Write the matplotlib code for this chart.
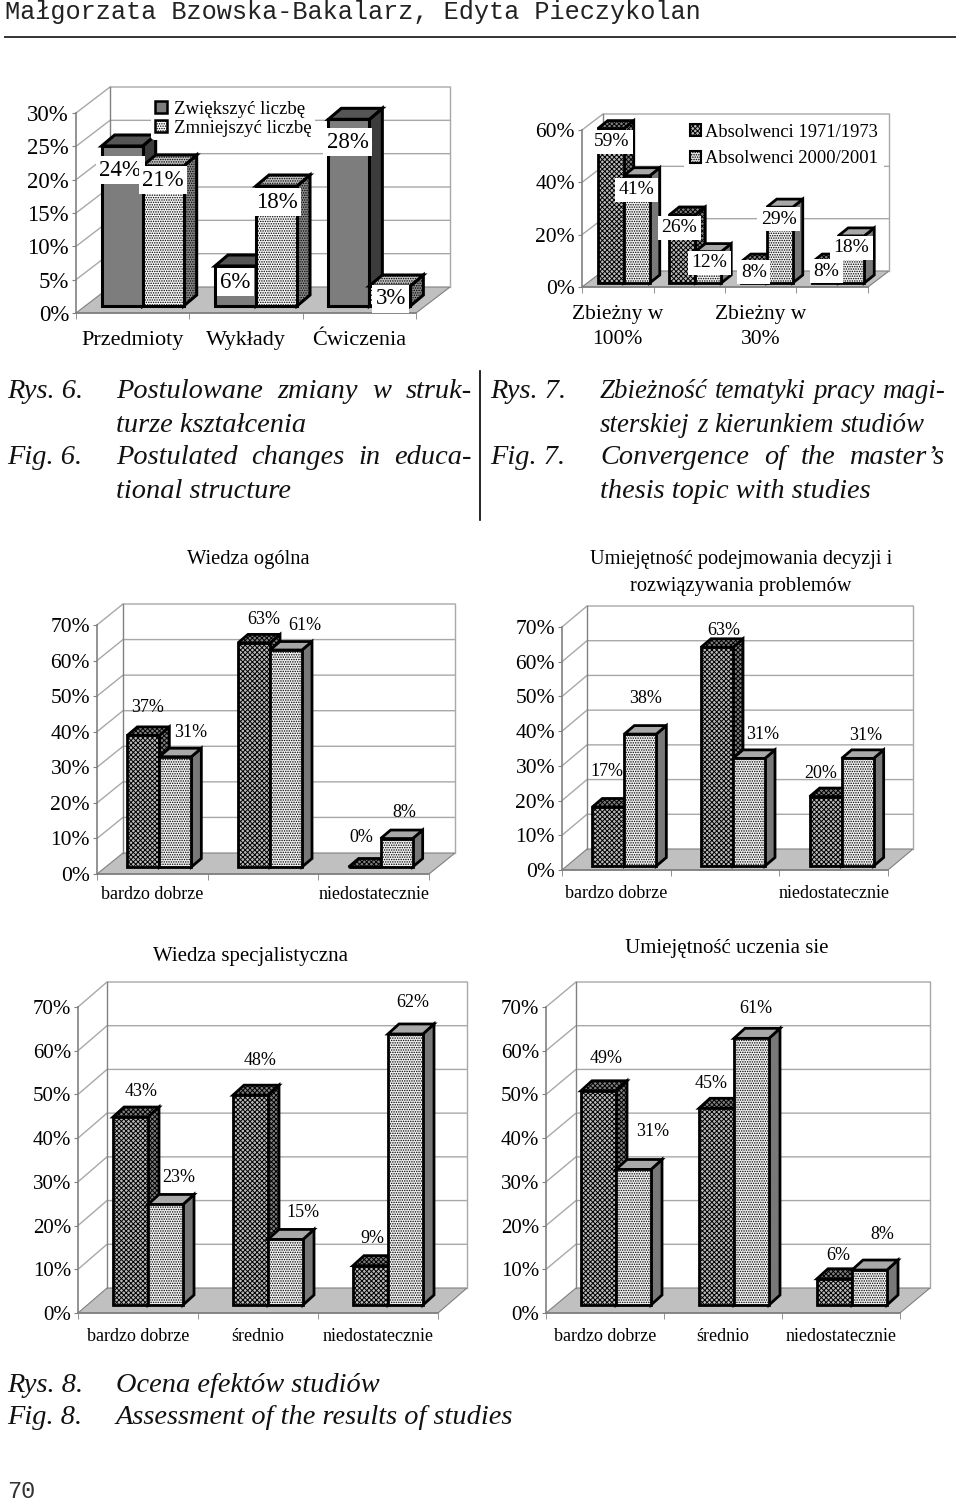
import matplotlib
matplotlib.use("Agg")
import matplotlib.pyplot as plt
from matplotlib.patches import Polygon, Patch

plt.rcParams["font.family"] = ["Liberation Serif", "DejaVu Serif"]
plt.rcParams["hatch.linewidth"] = 0.7

W, H = 960, 1504

# Dane
p1_cats = ["Przedmioty", "Wykłady", "Ćwiczenia"]
p1_a = [24, 6, 28]
p1_b = [21, 18, 3]
p1_ticks = [0, 5, 10, 15, 20, 25, 30]
p1_legend = ["Zwiększyć liczbę", "Zmniejszyć liczbę"]

p2_cats = ["Zbieżny w\n100%", "", "Zbieżny w\n30%", ""]
p2_a = [59, 26, 8, 8]
p2_b = [41, 12, 29, 18]
p2_ticks = [0, 20, 40, 60]
p2_legend = ["Absolwenci 1971/1973", "Absolwenci 2000/2001"]

p3_cats = ["bardzo dobrze", "", "niedostatecznie"]
p3_a = [37, 63, 0]
p3_b = [31, 61, 8]

p4_cats = ["bardzo dobrze", "", "niedostatecznie"]
p4_a = [17, 63, 20]
p4_b = [38, 31, 31]

p5_cats = ["bardzo dobrze", "średnio", "niedostatecznie"]
p5_a = [43, 48, 9]
p5_b = [23, 15, 62]

p6_cats = ["bardzo dobrze", "średnio", "niedostatecznie"]
p6_a = [49, 45, 6]
p6_b = [31, 61, 8]

ticks70 = [0, 10, 20, 30, 40, 50, 60, 70]

fig = plt.figure(figsize=(W / 100, H / 100), dpi=100, facecolor="white")

# Style słupków: (przód, bok, góra) -> kolor i kreskowanie
DENSE = "xxxxxxx"
DOTS = "......."
STYLE_SOLID = [("#7d7d7d", None), ("#3c3c3c", None), ("#555555", None)]
STYLE_DOT = [("#f8f8f8", DOTS), ("#8a8a8a", DOTS), ("#c4c4c4", DOTS)]
STYLE_DARK = [("#bbbbbb", DENSE), ("#808080", DENSE), ("#808080", DENSE)]
STYLE_LIGHT = [("#f2f2f2", DOTS), ("#787878", None), ("#a8a8a8", None)]


def fx(x):
    return x / W


def fy(y):
    return 1 - y / H


def put(x, y, s, **kw):
    kw.setdefault("va", "center")
    return fig.text(fx(x), fy(y + 2), s, **kw)


def justified(x0, x1, y, s, **kw):
    # tekst wyjustowany: każde słowo osobno
    words = s.split(" ")
    r = fig.canvas.get_renderer()
    items = [put(x0, y, w, **kw) for w in words]
    widths = [t.get_window_extent(r).width for t in items]
    gap = (x1 - x0 - sum(widths)) / (len(words) - 1)
    x = x0
    for t, w in zip(items, widths):
        t.set_x(fx(x))
        x += w + gap


def bar3d(ax, x, w, v, sy, ddx, ddy, style, lw):
    base = sy
    top = sy + v
    front = [(x, base), (x + w, base), (x + w, top), (x, top)]
    side = [(x + w, base), (x + w + ddx, base + ddy), (x + w + ddx, top + ddy), (x + w, top)]
    lid = [(x, top), (x + w, top), (x + w + ddx, top + ddy), (x + ddx, top + ddy)]
    for pts, (fc, hatch) in zip([side, lid, front], [style[1], style[2], style[0]]):
        ax.add_patch(Polygon(pts, closed=True, fc=fc, ec="black", hatch=hatch, lw=lw,
                             joinstyle="miter", clip_on=False, zorder=3))


def panel(rect, cats, a, b, ticks, depth, shift, barw, bar_depth, styles, offs,
          fs_tick, fs_cat, fs_val, boxed=False, lw=2.0, cat_pad=6):
    x0, x1, ytop, ybot = rect
    ax = fig.add_axes([fx(x0), fy(ybot), (x1 - x0) / W, (ybot - ytop) / H])
    n = len(cats)
    ymax = ticks[-1]
    ux = (x1 - x0) / n
    uy = (ybot - ytop) / ymax
    dx, dy = depth[0] / ux, -depth[1] / uy
    ax.set_xlim(0, n)
    ax.set_ylim(0, ymax)
    ax.patch.set_alpha(0)

    # ściany i podłoga
    ax.add_patch(Polygon([(0, 0), (n, 0), (n + dx, dy), (dx, dy)], fc="#c0c0c0", ec="#808080",
                         lw=0.8, clip_on=False, zorder=1))
    for v in ticks[1:]:
        ax.plot([0, dx, n + dx], [v, v + dy, v + dy], color="#a8a8a8", lw=1.0, clip_on=False, zorder=1)
    ax.plot([dx, dx], [dy, ymax + dy], color="#808080", lw=1.0, clip_on=False, zorder=1)
    ax.plot([n + dx, n + dx], [dy, ymax + dy], color="#a8a8a8", lw=1.0, clip_on=False, zorder=1)

    for s in ["top", "right"]:
        ax.spines[s].set_visible(False)
    for s in ["left", "bottom"]:
        ax.spines[s].set_color("#808080")
        ax.spines[s].set_linewidth(1.2)
    ax.set_yticks(ticks)
    ax.set_yticklabels([f"{t}%" for t in ticks], fontsize=fs_tick)
    ax.tick_params(axis="y", length=3, color="#808080", pad=2)
    ax.set_xticks([i + 0.5 for i in range(n)])
    ax.set_xticklabels(cats, fontsize=fs_cat, linespacing=1.45)
    ax.tick_params(axis="x", which="major", length=0, pad=cat_pad)
    ax.set_xticks(range(n + 1), minor=True)
    ax.tick_params(axis="x", which="minor", length=4, color="#808080")

    # słupki
    w = barw / ux
    sx, sy = shift[0] / ux, -shift[1] / uy
    ddx, ddy = bar_depth[0] / ux, -bar_depth[1] / uy
    for i in range(n):
        left = i + 0.5 + sx - w
        for j, vals in enumerate([a, b]):
            bar3d(ax, left + j * w, w, vals[i], sy, ddx, ddy, styles[j], lw)
        for j, vals in enumerate([a, b]):
            off = offs[i * 2 + j]
            bbox = dict(fc="white", ec="none", pad=2.5) if boxed else None
            ax.annotate(f"{vals[i]}%", (left + j * w + w / 2, sy + vals[i]), xytext=off,
                        textcoords="offset pixels", ha="center", va="center", fontsize=fs_val,
                        bbox=bbox, zorder=5, annotation_clip=False)
    return ax


# Nagłówek
put(5, 10, "Małgorzata Bzowska-Bakalarz, Edyta Pieczykolan", family="Liberation Mono", fontsize=18.2, color="#222222")
fig.add_artist(plt.Line2D([fx(5), fx(955)], [fy(37), fy(37)], color="#333333", lw=1.4))

# Rys. 6
ax1 = panel((76, 416, 113, 313), p1_cats, p1_a, p1_b, p1_ticks, (34, -26), (10, -7), 41, (13, -11),
            [STYLE_SOLID, STYLE_DOT],
            [(-2, -24), (0, -14), (0, -16), (0, -16), (-1, -23), (1, -13)],
            16.5, 16, 16.5, boxed=True, lw=2.2, cat_pad=13)
ax1.legend(handles=[Patch(fc="#7d7d7d", ec="black", lw=1.8), Patch(fc="white", ec="black", hatch=DOTS, lw=1.8)],
           labels=p1_legend, loc="upper left", bbox_to_anchor=(fx(151), fy(97)), bbox_transform=fig.transFigure,
           frameon=True, framealpha=1, edgecolor="none", fontsize=13.5, handlelength=0.65, handleheight=0.65,
           handletextpad=0.35, labelspacing=0.1, borderpad=0.2, borderaxespad=0).set_zorder(4)

ax2 = panel((582, 868, 130, 287), p2_cats, p2_a, p2_b, p2_ticks, (21, -16), (6, -4), 26, (10, -8),
            [STYLE_DARK, STYLE_LIGHT],
            [(1, -13), (0, -14), (-3, -13), (1, -11), (0, -10), (-1, -12), (1, -9), (0, -12)],
            15.5, 15.5, 14, boxed=True, lw=2.0, cat_pad=13)
ax2.legend(handles=[Patch(fc="#bbbbbb", ec="black", hatch=DENSE, lw=1.5), Patch(fc="#e4e4e4", ec="black", hatch=DOTS, lw=1.5)],
           labels=p2_legend, loc="upper left", bbox_to_anchor=(fx(684), fy(118)), bbox_transform=fig.transFigure,
           frameon=True, framealpha=1, edgecolor="none", fontsize=13.3, handlelength=0.6, handleheight=0.6,
           handletextpad=0.25, labelspacing=0.52, borderpad=0.3, borderaxespad=0).set_zorder(4)

# Podpisy
CAP = dict(style="italic", fontsize=20.4, color="#111111")
CAP2 = dict(style="italic", fontsize=19.4, color="#111111")
put(7, 390, "Rys. 6.", **CAP)
put(7, 456, "Fig. 6.", **CAP)
justified(116, 472, 390, "Postulowane zmiany w struk-", **CAP)
put(116, 423, "turze kształcenia", **CAP)
justified(116, 472, 456, "Postulated changes in educa-", **CAP)
put(116, 490, "tional structure", **CAP)
put(490, 390, "Rys. 7.", **CAP)
put(490, 456, "Fig. 7.", **CAP)
justified(600, 945, 390, "Zbieżność tematyki pracy magi-", **CAP2)
justified(600, 925, 423, "sterskiej z kierunkiem studiów", **CAP2)
justified(600, 945, 456, "Convergence of the master’s", **CAP)
put(600, 490, "thesis topic with studies", **CAP)
fig.add_artist(plt.Line2D([fx(480), fx(480)], [fy(371), fy(520)], color="black", lw=1.2))

# Rys. 8
panel((97, 429, 625, 874), p3_cats, p3_a, p3_b, ticks70, (26, -21), (7, -7), 32, (10, -8.5),
      [STYLE_DARK, STYLE_LIGHT],
      [(4, 28), (15, 24), (10, 23), (19, 25), (-3, 29), (8, 26)],
      15.5, 13, 13, lw=2.0, cat_pad=9)
panel((562, 888, 627, 870), p4_cats, p4_a, p4_b, ticks70, (25, -21), (8, -4), 32, (10, -8.5),
      [STYLE_DARK, STYLE_LIGHT],
      [(-1, 35), (5, 36), (7, 17), (14, 24), (-5, 23), (8, 23)],
      15.5, 13, 13, lw=2.0, cat_pad=11)
panel((78, 438, 1007, 1313), p5_cats, p5_a, p5_b, ticks70, (29, -25), (10, -8), 35, (11, -10),
      [STYLE_DARK, STYLE_LIGHT],
      [(11, 26), (13, 27), (10, 35), (17, 27), (2, 27), (7, 31)],
      15, 13, 13, lw=2.0, cat_pad=11)
panel((546, 900, 1007, 1313), p6_cats, p6_a, p6_b, ticks70, (30, -25), (11, -8), 35, (11, -10),
      [STYLE_DARK, STYLE_LIGHT],
      [(8, 32), (19, 38), (-5, 25), (4, 30), (4, 23), (13, 36)],
      15, 13, 13, lw=2.0, cat_pad=11)

put(248, 557, "Wiedza ogólna", ha="center", fontsize=14.8)
put(741, 557, "Umiejętność podejmowania decyzji i", ha="center", fontsize=14.7)
put(741, 585, "rozwiązywania problemów", ha="center", fontsize=14.7)
put(250, 955, "Wiedza specjalistyczna", ha="center", fontsize=15)
put(727, 947, "Umiejętność uczenia sie", ha="center", fontsize=15)

put(7, 1383, "Rys. 8.", **CAP)
put(7, 1416, "Fig. 8.", **CAP)
put(116, 1383, "Ocena efektów studiów", **CAP)
put(116, 1416, "Assessment of the results of studies", **CAP)
put(7, 1489, "70", family="Liberation Mono", fontsize=17, color="#333333")

fig.savefig("out.png", dpi=100, facecolor="white")
